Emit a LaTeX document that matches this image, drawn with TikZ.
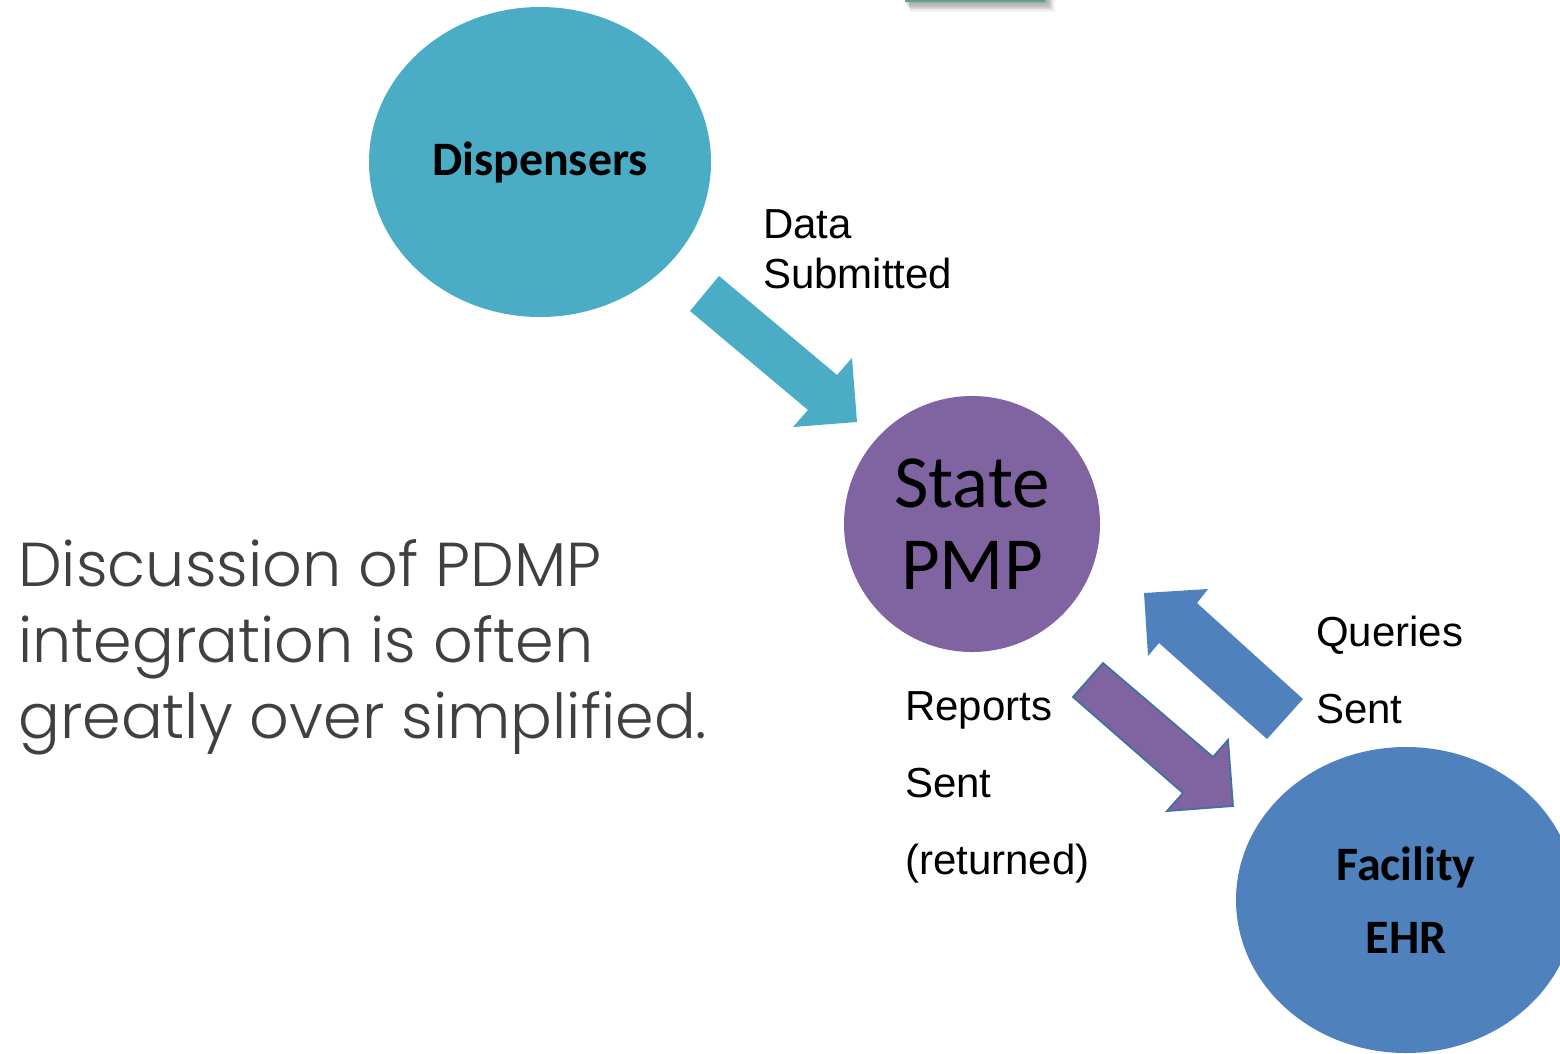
\documentclass[tikz,border=0pt]{standalone}
\usepackage{fontspec}
\usetikzlibrary{shapes.geometric}
\newfontfamily\calib{Carlito}
\newfontfamily\arialf{Liberation Sans}
\newfontfamily\gothic{Poppins Light}
\definecolor{teal1}{RGB}{75,172,198}
\definecolor{purp}{RGB}{128,100,162}
\definecolor{blue1}{RGB}{79,129,189}
\definecolor{outl}{RGB}{65,113,156}
\definecolor{greytext}{RGB}{64,64,64}
\tikzset{
  blob/.style={ellipse, inner sep=0pt, draw=none},
  lbl/.style={anchor=base west, inner sep=0pt, font=\arialf\fontsize{42}{48}\selectfont, text=black},
  side/.style={anchor=base west, inner sep=0pt, font=\gothic\fontsize{62}{76}\selectfont, text=greytext},
}
\begin{document}
\begin{tikzpicture}[x=1pt,y=-1pt]
\useasboundingbox (0,0) rectangle (1560,1053);
\clip (0,0) rectangle (1560,1053);
% cut-off box at top with shadow
\foreach \k in {1,...,8}{
  \fill[black, opacity=0.05] (905+\k*0.6,-20) rectangle (1045+\k*1.2,2+\k*1.2);
}
\fill[teal1!80!green!60!gray] (905,-20) rectangle (1045,1.5);
% circles
\node[blob, fill=teal1, minimum width=342pt, minimum height=310pt,
  font=\calib\bfseries\fontsize{48}{56}\selectfont] (disp) at (540,162) {Dispensers};
\node[blob, fill=purp, minimum width=256pt, minimum height=256pt, align=center,
  font=\calib\fontsize{75}{82}\selectfont] (pmp) at (972,524) {State\\PMP};
\node[blob, fill=blue1, minimum width=340pt, minimum height=306pt, align=center,
  font=\calib\bfseries\fontsize{48}{73}\selectfont] (ehr) at (1406,900) {Facility\\EHR};
% block arrows
\fill[teal1] (719,276) -- (837,375) -- (852,358) -- (857,422) -- (793,427) -- (808,410) -- (690,311) -- cycle;
\fill[blue1] (1144,593) -- (1208,589) -- (1197,603) -- (1303,699) -- (1267,739) -- (1159,643) -- (1148,656) -- cycle;
\filldraw[fill=purp, draw=outl, line width=1.8pt, line join=miter]
  (1103,663) -- (1213,757) -- (1228,740) -- (1233,806) -- (1167,811) -- (1183,793) -- (1073,697) -- cycle;
% labels
\node[lbl] (d1) at (763,238) {Data};
\node[lbl] (d2) at (763,288) {Submitted};
\node[lbl] (q1) at (1316,646) {Queries};
\node[lbl] (q2) at (1316,723) {Sent};
\node[lbl] (r1) at (905,720) {Reports};
\node[lbl] (r2) at (905,797) {Sent};
\node[lbl] (r3) at (905,874) {(returned)};
% side text
\node[side] (s1) at (18,586) {Discussion of PDMP};
\node[side] (s2) at (18,662) {integration is often};
\node[side] (s3) at (18,738) {greatly over simplified.};
\end{tikzpicture}
\end{document}
